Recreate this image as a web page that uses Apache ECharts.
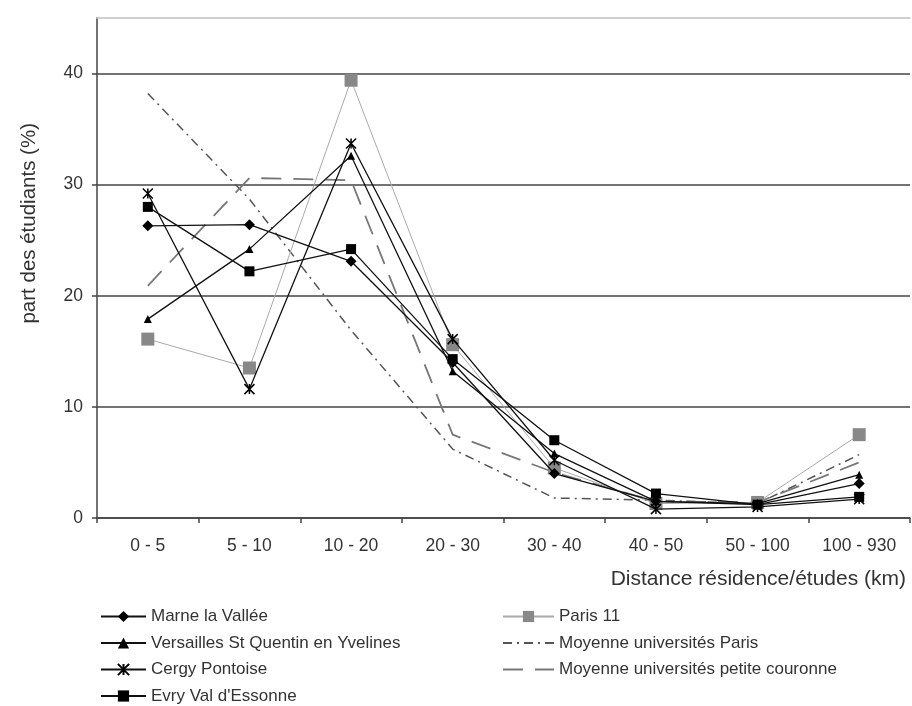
<!DOCTYPE html>
<html>
<head>
<meta charset="utf-8">
<script src="https://cdn.jsdelivr.net/npm/echarts@6/dist/echarts.min.js"></script>
<style>
html,body{margin:0;padding:0;background:#fff;}
#chart{width:912px;height:706px;}
</style>
</head>
<body>
<div id="chart"></div>
<script>
const categories = ['0 - 5','5 - 10','10 - 20','20 - 30','30 - 40','40 - 50','50 - 100','100 - 930'];
const marne      = [26.3, 26.4, 23.1, 14.0, 4.0, 1.5, 1.2, 3.1];
const versailles = [17.9, 24.2, 32.6, 13.2, 5.8, 1.5, 1.3, 3.9];
const cergy      = [29.2, 11.6, 33.7, 16.1, 5.2, 0.8, 1.0, 1.7];
const evry       = [28.0, 22.2, 24.2, 14.3, 7.0, 2.2, 1.2, 1.9];
const paris11    = [16.1, 13.5, 39.4, 15.6, 4.5, 1.3, 1.4, 7.5];
const moyParis   = [38.2, 28.7, 16.9, 6.2, 1.8, 1.6, 1.3, 5.7];
const moyPC      = [20.9, 30.6, 30.4, 7.5, 4.1, 1.5, 1.4, 5.0];
const yTicks = [0, 10, 20, 30, 40];

const names = {
  marne: 'Marne la Vallée',
  versailles: 'Versailles St Quentin en Yvelines',
  cergy: 'Cergy Pontoise',
  evry: "Evry Val d'Essonne",
  paris11: 'Paris 11',
  moyParis: 'Moyenne universités Paris',
  moyPC: 'Moyenne universités petite couronne'
};

const FONT = 'Liberation Sans';
const TXT = '#333';
const xPath = 'path://M0,0L10,10M10,0L0,10M5,0L5,10';

const chart = echarts.init(document.getElementById('chart'), null, {renderer: 'canvas'});

function blackSeries(name, data, symbol, size) {
  return {
    name: name, type: 'line', data: data,
    symbol: symbol, symbolSize: size, showSymbol: true,
    lineStyle: {color: '#111', width: 1.3},
    itemStyle: {color: '#000', borderColor: '#000', borderWidth: symbol.startsWith('path') ? 1.5 : 0},
    emphasis: {disabled: true}, animation: false, z: 3
  };
}

const legendText = {color: TXT, fontSize: 17, fontFamily: FONT};

const option = {
  backgroundColor: '#fff',
  animation: false,
  textStyle: {fontFamily: FONT},
  grid: {left: 97, right: 2, top: 18, bottom: 188},
  xAxis: [{
    type: 'category', data: categories, boundaryGap: true, position: 'bottom',
    axisLine: {lineStyle: {color: '#444', width: 1.5}},
    axisTick: {show: true, length: 5, lineStyle: {color: '#444', width: 1.5}},
    axisLabel: {color: TXT, fontSize: 17.5, fontFamily: FONT, margin: 19},
    splitLine: {show: false}
  }, {
    type: 'category', data: categories, position: 'top',
    axisLine: {lineStyle: {color: '#ccc', width: 1.5}},
    axisTick: {show: false}, axisLabel: {show: false}, splitLine: {show: false}
  }],
  yAxis: {
    type: 'value', min: 0, max: 45, interval: 10,
    axisLine: {show: true, lineStyle: {color: '#444', width: 1.5}},
    axisTick: {show: true, length: 5, lineStyle: {color: '#444', width: 1.5}},
    axisLabel: {color: TXT, fontSize: 17.5, fontFamily: FONT, margin: 14, showMaxLabel: false,
      formatter: v => yTicks.includes(v) ? String(v) : ''},
    splitLine: {show: true, lineStyle: {color: ['#444', '#444', '#444', '#444', '#444', '#ccc'], width: 1.5}}
  },
  legend: [{
    orient: 'vertical', left: 100, top: 608, height: 120, padding: 0, itemWidth: 45, itemHeight: 14, itemGap: 9.5,
    textStyle: legendText,
    data: [names.marne, names.versailles, names.cergy, names.evry]
  }, {
    orient: 'vertical', left: 502, top: 608, height: 120, padding: 0, itemWidth: 51, itemHeight: 14, itemGap: 9.5,
    textStyle: legendText,
    data: [names.paris11, names.moyParis, names.moyPC]
  }],
  graphic: [{
    type: 'text', left: 19, top: 123, rotation: Math.PI / 2,
    style: {text: 'part des étudiants (%)', fill: TXT, font: '20.5px "Liberation Sans"'}
  }, {
    type: 'text', right: 6, top: 569,
    style: {text: 'Distance résidence/études (km)', fill: TXT, font: '21px "Liberation Sans"'}
  }],
  series: [
    {
      name: names.moyParis, type: 'line', data: moyParis, symbol: 'none',
      lineStyle: {color: '#555', width: 1.5, type: [9, 5, 2, 5]},
      itemStyle: {color: 'rgba(0,0,0,0)'}, emphasis: {disabled: true}, z: 2
    },
    {
      name: names.moyPC, type: 'line', data: moyPC, symbol: 'none',
      lineStyle: {color: '#777', width: 1.8, type: [20, 12]},
      itemStyle: {color: 'rgba(0,0,0,0)'}, emphasis: {disabled: true}, z: 2
    },
    {
      name: names.paris11, type: 'line', data: paris11,
      symbol: 'rect', symbolSize: 13,
      lineStyle: {color: '#aaa', width: 1},
      itemStyle: {color: '#888'}, emphasis: {disabled: true}, z: 2
    },
    blackSeries(names.marne, marne, 'diamond', 11),
    blackSeries(names.versailles, versailles, 'triangle', 8),
    blackSeries(names.cergy, cergy, xPath, 10),
    blackSeries(names.evry, evry, 'rect', 10)
  ]
};
chart.setOption(option);
</script>
</body>
</html>
